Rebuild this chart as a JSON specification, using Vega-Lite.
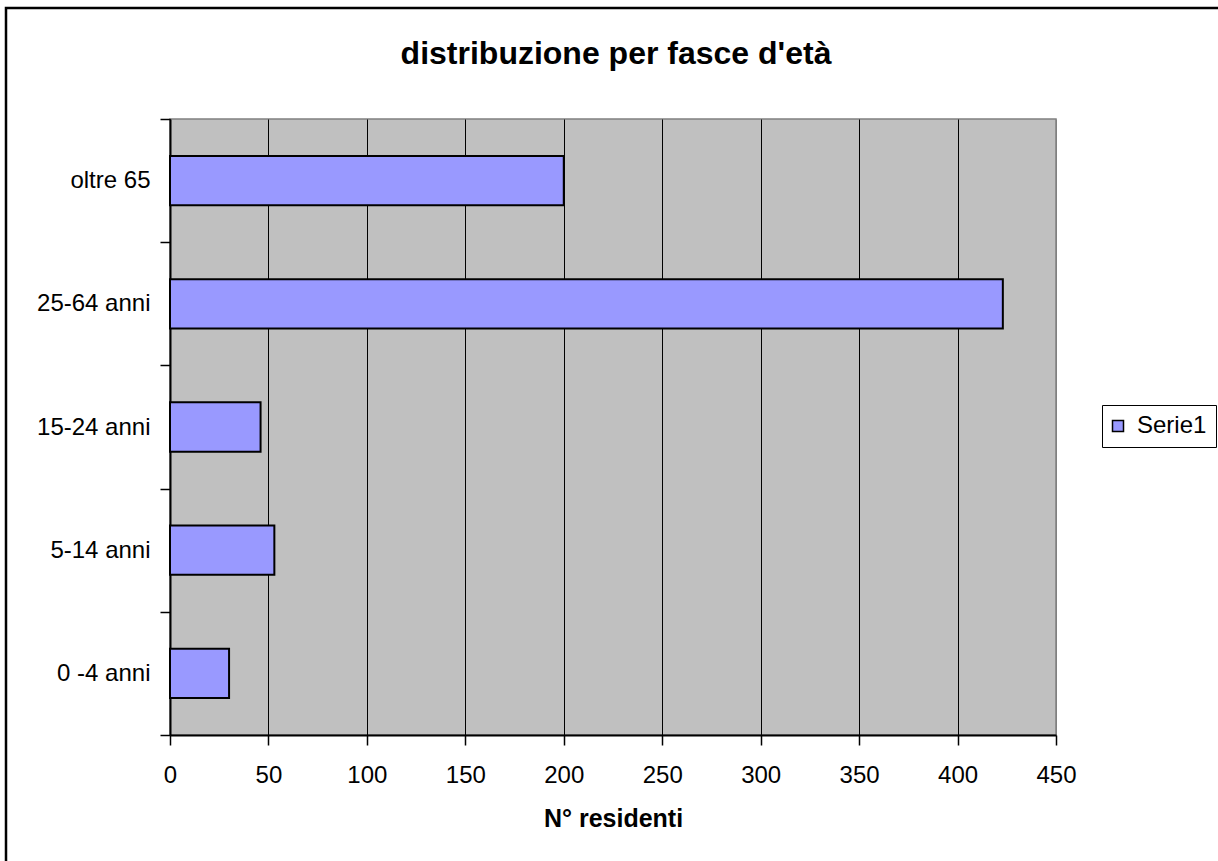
{
  "$schema": "https://vega.github.io/schema/vega-lite/v6.json",
  "width": 886,
  "height": 616,
  "autosize": {"type": "none"},
  "padding": {"left": 170, "top": 119, "right": 162, "bottom": 126},
  "background": "white",
  "config": {
    "font": "Liberation Sans",
    "view": {"fill": "#C0C0C0", "stroke": "#808080", "strokeWidth": 1.5}
  },
  "title": {
    "text": "distribuzione per fasce d'età",
    "fontSize": 32,
    "fontWeight": "bold",
    "font": "Liberation Sans",
    "color": "black",
    "anchor": "middle",
    "frame": "group",
    "baseline": "bottom",
    "offset": -96,
    "dx": 3
  },
  "layer": [
    {
      "data": {"values": [{"frame": "chart"}]},
      "mark": {"type": "rect", "fill": "white", "fillOpacity": 0, "stroke": "black", "strokeWidth": 2.5, "clip": false},
      "encoding": {
        "x": {"value": -164},
        "x2": {"value": 1100},
        "y": {"value": -111},
        "y2": {"value": 800}
      }
    },
    {
      "data": {
        "values": [
          {"fascia": "oltre 65", "residenti": 200},
          {"fascia": "25-64 anni", "residenti": 423},
          {"fascia": "15-24 anni", "residenti": 46},
          {"fascia": "5-14 anni", "residenti": 53},
          {"fascia": "0 -4 anni", "residenti": 30}
        ]
      },
      "mark": {"type": "bar", "stroke": "black", "strokeWidth": 2, "fillOpacity": 1, "height": {"band": 0.4}},
      "encoding": {
        "y": {
          "field": "fascia",
          "type": "nominal",
          "sort": null,
          "scale": {"paddingInner": 0, "paddingOuter": 0},
          "axis": {
            "title": null,
            "labelFontSize": 24,
            "labelFont": "Liberation Sans",
            "labelColor": "black",
            "labelPadding": 10,
            "tickSize": 10,
            "tickColor": "black",
            "tickWidth": 1.5,
            "domainColor": "black",
            "domainWidth": 2,
            "tickBand": "extent",
            "grid": false
          }
        },
        "x": {
          "field": "residenti",
          "type": "quantitative",
          "scale": {"domain": [0, 450], "nice": false},
          "axis": {
            "title": "N° residenti",
            "titleFontSize": 25,
            "titleFont": "Liberation Sans",
            "titleFontWeight": "bold",
            "titleColor": "black",
            "titlePadding": 19,
            "values": [0, 50, 100, 150, 200, 250, 300, 350, 400, 450],
            "labelFontSize": 24,
            "labelFont": "Liberation Sans",
            "labelColor": "black",
            "labelPadding": 18,
            "labelFlush": false,
            "tickSize": 10,
            "tickColor": "black",
            "tickWidth": 1.5,
            "domainColor": "black",
            "domainWidth": 2,
            "grid": true,
            "gridColor": {"condition": {"test": "datum.value === 450", "value": "#808080"}, "value": "black"},
            "gridWidth": 1,
            "gridOpacity": 1
          }
        },
        "color": {
          "datum": "Serie1",
          "type": "nominal",
          "scale": {"range": ["#9999FF"]},
          "legend": {
            "title": null,
            "orient": "none",
            "legendX": 932,
            "legendY": 286,
            "symbolType": "square",
            "symbolSize": 121,
            "symbolStrokeColor": "black",
            "symbolStrokeWidth": 1.5,
            "symbolOpacity": 1,
            "symbolOffset": -5,
            "labelFontSize": 24,
            "labelFont": "Liberation Sans",
            "labelColor": "black",
            "labelOffset": 7,
            "strokeColor": "black",
            "padding": 9
          }
        }
      }
    }
  ]
}
